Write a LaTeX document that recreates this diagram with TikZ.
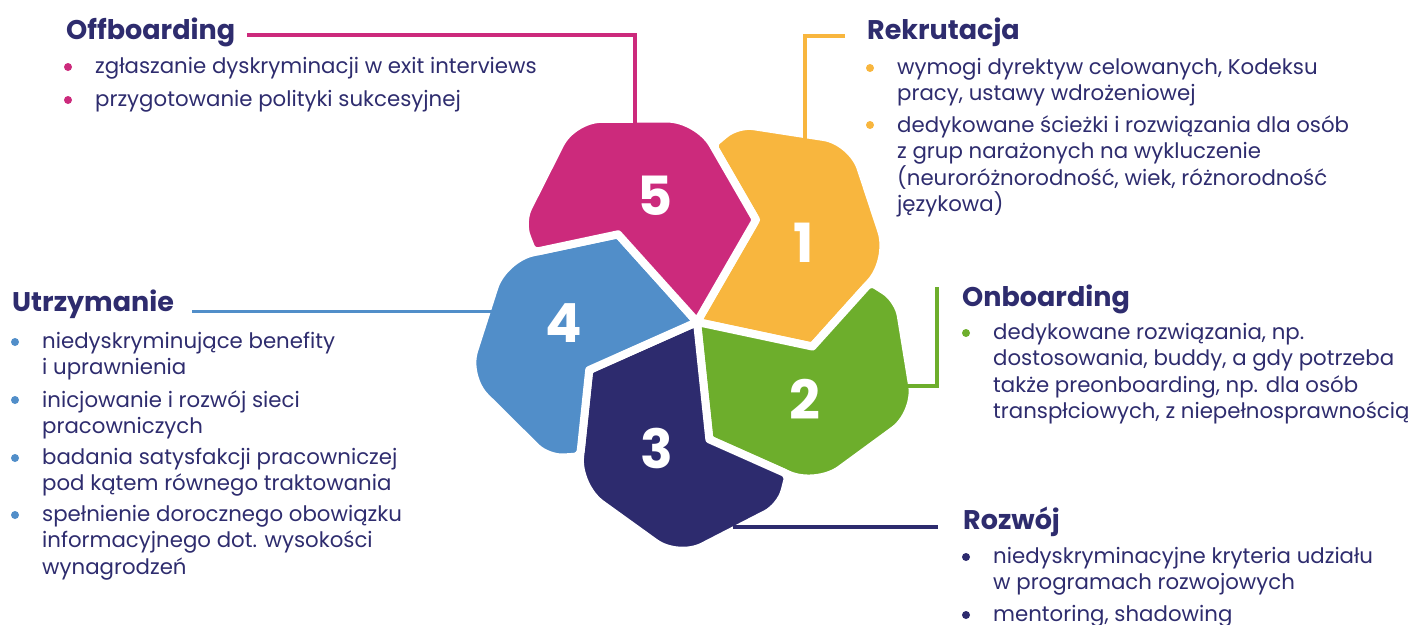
\documentclass[tikz,border=0pt]{standalone}
\usepackage{fontspec}
\setmainfont{Poppins}
\usetikzlibrary{positioning,calc}

\definecolor{rekrut}{HTML}{F8B63E}
\definecolor{onboard}{HTML}{6DAE2C}
\definecolor{rozwoj}{HTML}{2D2B6E}
\definecolor{utrzym}{HTML}{518EC9}
\definecolor{offboard}{HTML}{CC2A7C}
\definecolor{ink}{HTML}{2E2C6E}

\begin{document}
\begin{tikzpicture}[x=1pt,y=-1pt,
    petal/.style={draw=white,line width=8pt,line join=round},
    num/.style={text=white,font=\fontsize{54}{54}\selectfont\bfseries},
    head/.style={anchor=base west,inner sep=0pt,text=ink,font=\fontsize{27}{30}\selectfont\bfseries},
    item/.style={anchor=north west,inner sep=0pt,align=left,text=ink,font=\fontsize{21.3}{26.5}\selectfont},
    dot/.style={circle,inner sep=0pt,minimum size=8pt},
    leader/.style={line width=3.5pt}]

    \useasboundingbox (0,0) rectangle (1411,624);

    % the five petals, turned around the middle
    \foreach \ang/\col/\n in {-12/rekrut/1, 276/onboard/2, 204/rozwoj/3, 132/utrzym/4, 60/offboard/5}{
        \begin{scope}[shift={(697,322)},yscale=-1,rotate=-\ang]
            \path[petal,fill=\col] (0,0) [rounded corners=3pt] -- (0:118)
                [rounded corners=30pt] -- (176.5,101.3)
                [rounded corners=28pt] -- (113.8,208.9)
                [rounded corners=16pt] -- (-1.4,202.4)
                [rounded corners=6pt] -- (-21.7,176.8)
                [sharp corners] -- (72:118) -- cycle;
            \node[num] (n\n) at (48.5:133) {\n};
        \end{scope}
    }

    % headings
    \node[head] (off) at (66,39) {Offboarding};
    \node[head] (rek) at (867,39) {Rekrutacja};
    \node[head] (onb) at (962,306) {Onboarding};
    \node[head] (roz) at (963,529.5) {Rozwój};
    \node[head] (utr) at (12,311) {Utrzymanie};

    % points where the leaders meet the petals
    \coordinate (t5) at (635,126);
    \coordinate (t1) at (805,142);
    \coordinate (t2) at (904,386);
    \coordinate (t3) at (733,527);
    \coordinate (t4) at (492,311.5);

    \draw[leader,offboard] ($(off.base east)+(12,-4)$) -| (t5);
    \draw[leader,rekrut] ($(rek.base west)+(-22,-3)$) -| (t1);
    \draw[leader,onboard] ($(onb.base west)+(-25,-19)$) |- (t2);
    \draw[leader,rozwoj] ($(roz.base west)+(-25,-2.5)$) -- (t3);
    \draw[leader,utrzym] ($(utr.base east)+(18,0.5)$) -- (t4);

    % Offboarding
    \node[item] (o1) at (95,57) {zgłaszanie dyskryminacji w exit interviews};
    \node[item] (o2) at (95,90) {przygotowanie polityki sukcesyjnej};
    \node[dot,fill=offboard] (do1) at ($(o1.north west)+(-27,10)$) {};
    \node[dot,fill=offboard] (do2) at ($(o2.north west)+(-27,10)$) {};

    % Rekrutacja
    \node[item] (r1) at (897,58) {wymogi dyrektyw celowanych, Kodeksu\\pracy, ustawy wdrożeniowej};
    \node[item] (r2) at (897,115) {dedykowane ścieżki i rozwiązania dla osób\\z grup narażonych na wykluczenie\\(neuroróżnorodność, wiek, różnorodność\\językowa)};
    \node[dot,fill=rekrut] (dr1) at ($(r1.north west)+(-27,10)$) {};
    \node[dot,fill=rekrut] (dr2) at ($(r2.north west)+(-27,10)$) {};

    % Onboarding
    \node[item] (b1) at (993,323) {dedykowane rozwiązania, np.\\dostosowania, buddy, a gdy potrzeba\\także preonboarding, np. dla osób\\transpłciowych, z niepełnosprawnością};
    \node[dot,fill=onboard] (db1) at ($(b1.north west)+(-27,10)$) {};

    % Rozwój
    \node[item] (w1) at (993,547) {niedyskryminacyjne kryteria udziału\\w programach rozwojowych};
    \node[item] (w2) at (993,605) {mentoring, shadowing};
    \node[dot,fill=rozwoj] (dw1) at ($(w1.north west)+(-27,10)$) {};
    \node[dot,fill=rozwoj] (dw2) at ($(w2.north west)+(-27,10)$) {};

    % Utrzymanie
    \node[item] (u1) at (42,332) {niedyskryminujące benefity\\i uprawnienia};
    \node[item] (u2) at (42,390) {inicjowanie i rozwój sieci\\pracowniczych};
    \node[item] (u3) at (42,448) {badania satysfakcji pracowniczej\\pod kątem równego traktowania};
    \node[item] (u4) at (42,505) {spełnienie dorocznego obowiązku\\informacyjnego dot. wysokości\\wynagrodzeń};
    \node[dot,fill=utrzym] (du1) at ($(u1.north west)+(-27,10)$) {};
    \node[dot,fill=utrzym] (du2) at ($(u2.north west)+(-27,10)$) {};
    \node[dot,fill=utrzym] (du3) at ($(u3.north west)+(-27,10)$) {};
    \node[dot,fill=utrzym] (du4) at ($(u4.north west)+(-27,10)$) {};
\end{tikzpicture}
\end{document}
